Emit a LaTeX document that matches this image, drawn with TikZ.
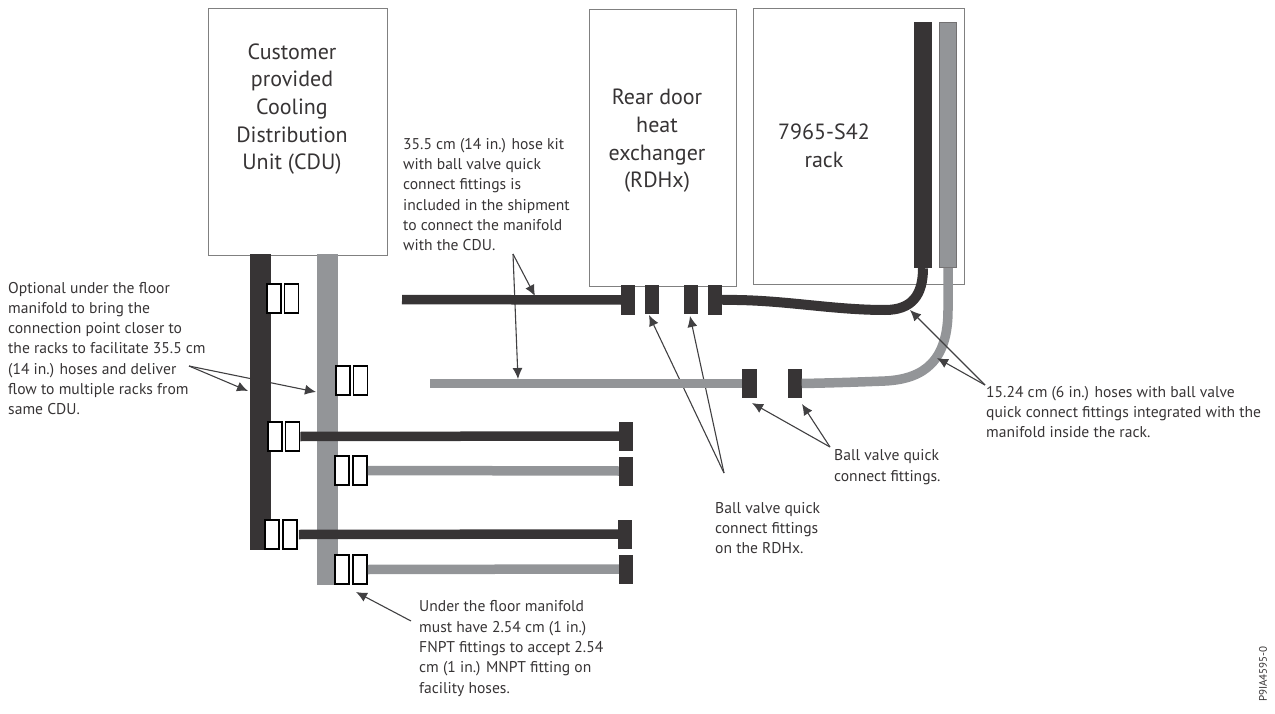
\documentclass[tikz,border=0pt]{standalone}
\usepackage{fontspec}
\setmainfont{PT Sans}
\definecolor{hosedark}{RGB}{55, 52, 53}
\definecolor{hosegray}{RGB}{147, 149, 152}
\definecolor{boxgray}{RGB}{128, 128, 128}
\definecolor{leadgray}{RGB}{65, 64, 66}
\usetikzlibrary{arrows.meta, positioning}
\tikzset{
	unitbox/.style={rectangle, draw=boxgray, fill=white, line width=0.8pt, inner sep=0pt},
	unittext/.style={align=center, inner sep=0pt, font=\fontsize{22}{27.6}\selectfont, text=hosedark},
	note/.style={rectangle, anchor=west, align=left, inner sep=0pt, font=\fontsize{15.6}{20.3}\selectfont, text=hosedark},
	darkbar/.style={rectangle, fill=hosedark, inner sep=0pt, minimum width=14pt, minimum height=29pt},
	openfit/.style={rectangle, draw=black, fill=white, line width=1.7pt, inner sep=0pt, minimum width=14pt, minimum height=29pt},
	darkhose/.style={draw=hosedark, line width=9.5pt},
	grayhose/.style={draw=hosegray, line width=9.5pt},
	lead/.style={-{Latex[length=11pt, width=10pt]}, line width=1.1pt, draw=leadgray},
}
\begin{document}
\begin{tikzpicture}[x=1pt, y=-1pt]
		\useasboundingbox (0,0) rectangle (1275,714);
		% boxes
		\node[unitbox, minimum width=179pt, minimum height=247pt] (cdu) at (297.5,131.5) {};
		\node[unitbox, minimum width=147pt, minimum height=277pt] (rdhx) at (662.5,148) {};
		\node[unitbox, minimum width=211pt, minimum height=276pt] (rack) at (858.5,146) {};
		\node[unittext] (cdutext) at (292,109) {Customer\\provided\\Cooling\\Distribution\\Unit (CDU)};
		\node[unittext] (rdhxtext) at (657,141) {Rear door\\heat\\exchanger\\(RDHx)};
		\node[unittext] (racktext) at (824,146) {7965-S42\\rack};
		% notes
		\node[note] (kitnote) at (403,194.5) {35.5 cm (14 in.) hose kit\\with ball valve quick\\connect fittings is\\included in the shipment\\to connect the manifold\\with the CDU.};
		\node[note] (optnote) at (8,348.5) {Optional under the floor\\manifold to bring the\\connection point closer to\\the racks to facilitate 35.5 cm\\(14 in.) hoses and deliver\\flow to multiple racks from\\same CDU.};
		\node[note] (floornote) at (419,648.5) {Under the floor manifold\\must have 2.54 cm (1 in.)\\FNPT fittings to accept 2.54\\cm (1 in.) MNPT fitting on\\facility hoses.};
		\node[note] (hosenote) at (986,412) {15.24 cm (6 in.) hoses with ball valve\\quick connect fittings integrated with the\\manifold inside the rack.};
		\node[note] (rdhxnote) at (715,528) {Ball valve quick\\connect fittings\\on the RDHx.};
		\node[note] (valvenote) at (834,467) {Ball valve quick\\connect fittings.};
		\node[rotate=90, inner sep=0pt, font=\fontsize{11}{13}\selectfont, text=hosedark] (figid) at (1263,674) {P9IA4595-0};
		% leader ends
		\coordinate (opttail) at (189,366);
		\coordinate (opttipa) at (248,391);
		\coordinate (opttipb) at (316,392);
		\coordinate (kittail) at (513,254);
		\coordinate (kittipa) at (535,296);
		\coordinate (kittipb) at (518,379);
		\coordinate (rdhxtail) at (724,473);
		\coordinate (rdhxtipa) at (649,315);
		\coordinate (rdhxtipb) at (690,316);
		\coordinate (valvetail) at (830,447);
		\coordinate (valvetipa) at (752,403);
		\coordinate (valvetipb) at (802,404);
		\coordinate (hosetail) at (985,385);
		\coordinate (hosetipa) at (910,310);
		\coordinate (hosetipb) at (937,358);
		\coordinate (floortail) at (411,621);
		\coordinate (floortip) at (356,592);
		% leaders
		\draw[lead] (opttail) -- (opttipa);
		\draw[lead] (opttail) -- (opttipb);
		\draw[lead] (kittail) -- (kittipb);
		\draw[lead] (rdhxtail) -- (rdhxtipa);
		\draw[lead] (rdhxtail) -- (rdhxtipb);
		\draw[lead] (valvetail) -- (valvetipa);
		\draw[lead] (valvetail) -- (valvetipb);
		\draw[lead] (floortail) -- (floortip);
		% manifolds
		\node[darkbar, minimum width=21pt, minimum height=296pt] (darkmanifold) at (260.5,402) {};
		\node[rectangle, fill=hosegray, inner sep=0pt, minimum width=21pt, minimum height=331pt] (graymanifold) at (327.5,419.5) {};
		% open fittings
		\node[openfit] (opena) at (274,298.5) {};
		\node[openfit] (openb) at (291.5,298.5) {};
		\node[openfit] (openc) at (343,380.5) {};
		\node[openfit] (opend) at (360.5,380.5) {};
		\node[openfit] (opene) at (275,436.5) {};
		\node[openfit] (openf) at (292.5,436.5) {};
		\node[openfit] (openg) at (342,470.5) {};
		\node[openfit] (openh) at (360,470.5) {};
		\node[openfit] (openi) at (272,534.5) {};
		\node[openfit] (openj) at (290,534.5) {};
		\node[openfit] (openk) at (342,569.5) {};
		\node[openfit] (openl) at (360,569.5) {};
		% caps
		\node[darkbar] (capa) at (626,436) {};
		\node[darkbar] (capb) at (626,471) {};
		\node[darkbar] (capc) at (625,534) {};
		\node[darkbar] (capd) at (626,569) {};
		% facility hoses
		\draw[darkhose] (openf.east) -- (capa.west);
		\draw[grayhose] (openh.east) -- (capb.west);
		\draw[darkhose] ([xshift=1pt]openj.east) -- (capc.west);
		\draw[grayhose] (openl.east) -- (capd.west);
		% rack manifolds
		\node[rectangle, fill=hosedark, inner sep=0pt, minimum width=18pt, minimum height=246pt] (rackdark) at (923,145) {};
		\node[rectangle, draw=hosedark!70, fill=hosegray, line width=0.7pt, inner sep=0pt, minimum width=17pt, minimum height=245pt] (rackgray) at (948,145) {};
		% fittings
		\node[darkbar] (fita) at (628,300) {};
		\node[darkbar] (fitb) at (651.5,299.5) {};
		\node[darkbar] (fitc) at (691,299.5) {};
		\node[darkbar] (fitd) at (715,300) {};
		\node[darkbar, minimum width=15pt] (fite) at (749.5,383.5) {};
		\node[darkbar] (fitf) at (794.5,383.5) {};
		% hoses
		\coordinate (kitdark) at (402,299.5);
		\coordinate (kitgray) at (430,383.5);
		\draw[darkhose] (kitdark) -- (fita.west);
		\draw[grayhose] (kitgray) -- (fite.west);
		\draw[darkhose, line width=10pt] (fitd.east) .. controls (780,299) and (830,310) .. (885,310) .. controls (912,310) and (923,295) .. (rackdark.south);
		\draw[grayhose] (fitf.east) .. controls (830,383) and (860,382) .. (885,381) .. controls (925,379) and (948,360) .. (948,310) -- (rackgray.south);
		% leaders on top
		\draw[lead] (kittail) -- (kittipa);
		\draw[lead] (hosetail) -- (hosetipa);
		\draw[lead] (hosetail) -- (hosetipb);
	\end{tikzpicture}
\end{document}
